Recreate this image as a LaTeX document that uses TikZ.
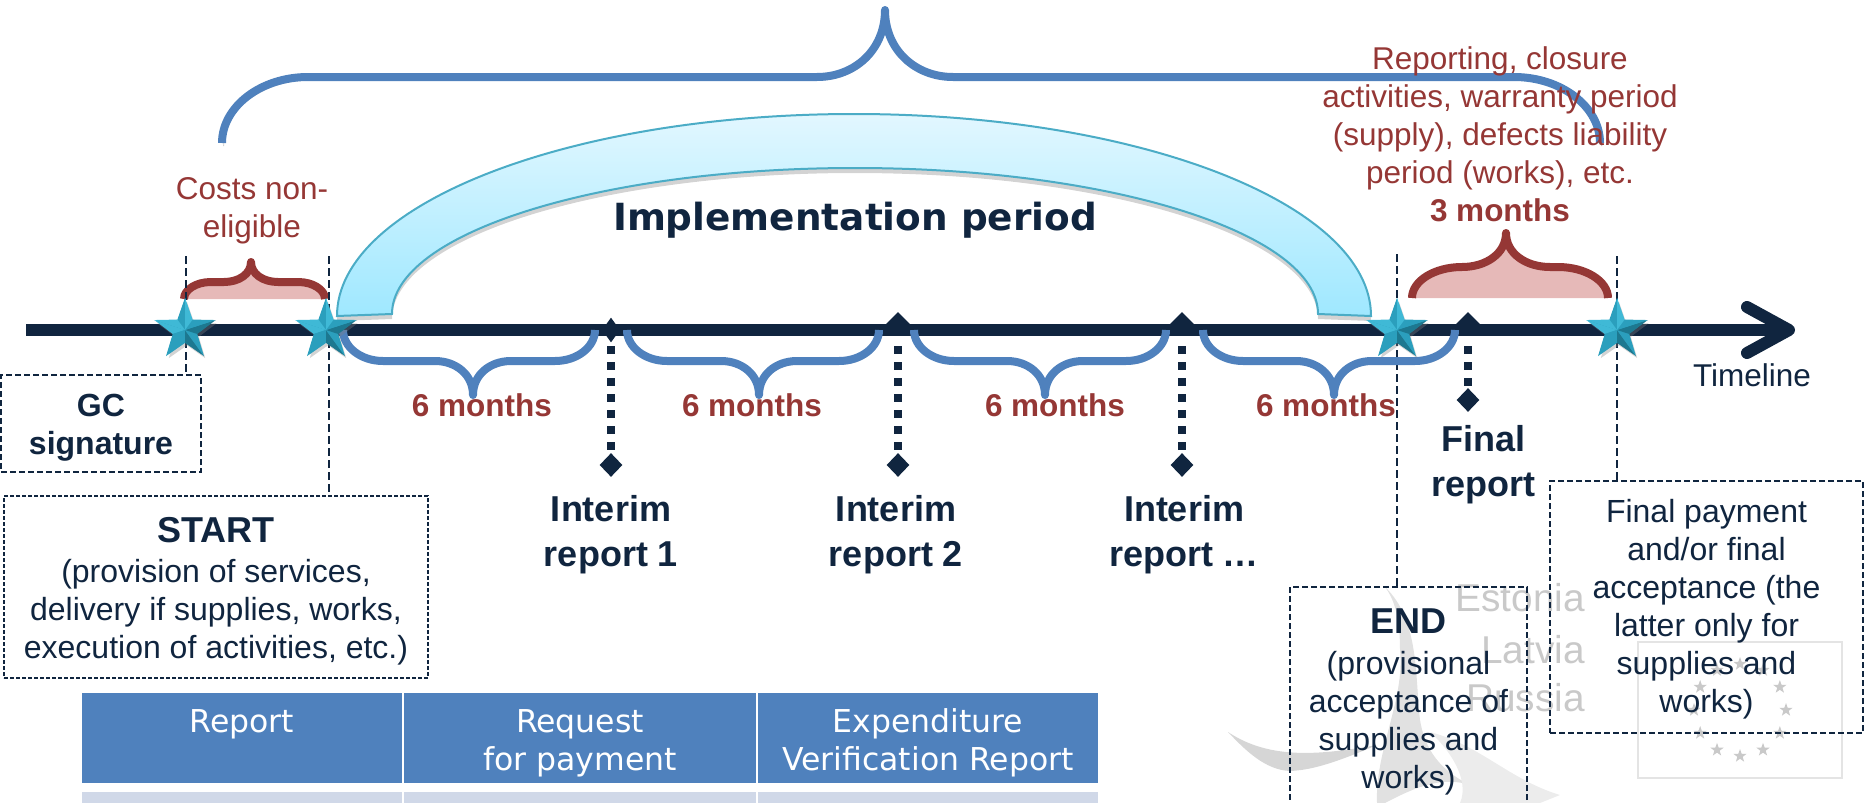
\documentclass[tikz,border=0pt]{standalone}
\usepackage{fontspec}
\setmainfont{Liberation Sans}
\newfontfamily\tablefont{DejaVu Sans}
\usetikzlibrary{shapes.geometric, arrows.meta, shadows}
\definecolor{navy}{HTML}{10253F}
\definecolor{braceblue}{HTML}{4F81BD}
\definecolor{darkred}{HTML}{953735}
\definecolor{palered}{HTML}{E6B9B8}
\definecolor{rowblue}{HTML}{D0D8E8}
\definecolor{bandline}{HTML}{4BACC6}
\definecolor{bandtop}{HTML}{E2F7FF}
\definecolor{bandbottom}{HTML}{9FE8FF}
\definecolor{wmgray}{HTML}{C9C9C9}
\definecolor{facetlight}{HTML}{3FB9D6}
\definecolor{facetmid}{HTML}{2B9FBD}
\definecolor{facetdark}{HTML}{1D7890}
\newcommand{\fsize}[2]{\fontsize{#1}{#2}\selectfont}
\tikzstyle{arrow} = [line width=6pt, draw=navy, -{Straight Barb[length=21pt, width=23pt, round]}]
\tikzstyle{guide} = [draw=navy, line width=1pt, dash pattern=on 4pt off 2pt]
\tikzstyle{dotline} = [draw=navy, line width=4pt, dash pattern=on 4pt off 4pt]
\tikzstyle{infobox} = [rectangle, draw=navy, line width=1pt, dash pattern=on 3pt off 1.5pt, align=center, text=navy, inner sep=0pt, font=\fsize{16}{19}]
\tikzstyle{tlmark} = [diamond, fill=navy, inner sep=0pt, minimum width=12pt, minimum height=12pt]
\tikzstyle{tlstar} = [star, star points=5, star point ratio=2.5, minimum size=31pt, inner sep=0pt, fill=facetmid, drop shadow={opacity=.35, shadow xshift=1pt, shadow yshift=-1.5pt}]
\tikzstyle{flagstar} = [star, star points=5, star point ratio=2.5, minimum size=7pt, inner sep=0pt, fill=wmgray]
\tikzstyle{bluebrace} = [draw=braceblue, line width=4pt, line join=round, preaction={draw=black!60, opacity=.3, transform canvas={xshift=.8pt, yshift=-1.6pt}}]
\tikzstyle{redbrace} = [draw=darkred, fill=palered, line width=4pt, line join=round]
\tikzstyle{months} = [text=darkred, font=\fsize{15.75}{19}\bfseries]
\tikzstyle{redtext} = [text=darkred, align=center, font=\fsize{15.75}{19}]
\tikzstyle{reportlabel} = [text=navy, align=center, font=\fsize{18}{22.5}\bfseries]
\tikzstyle{wmtext} = [text=wmgray, anchor=east, font=\fsize{19.4}{24}]
\tikzstyle{tablehead} = [rectangle, fill=braceblue, draw=white, line width=1pt, text=white, align=center, minimum height=46pt, inner sep=0pt, font=\tablefont\fsize{15.75}{19}]
\tikzstyle{tablerow} = [rectangle, fill=rowblue, draw=white, line width=1pt, minimum height=12pt, inner sep=0pt]
% x1, xtip, x2, ybase, ybar, ytip, corner, middle
\newcommand{\tlbrace}[9]{
  \draw[#1] (#2,#5) .. controls (#2,{#5+(#6-#5)*.55}) and ({#2+#8*.45},#6) .. ({#2+#8},#6)
    -- ({#3-#9},#6) .. controls ({#3-#9*.45},#6) and (#3,{#6+(#7-#6)*.4}) .. (#3,#7)
    .. controls (#3,{#6+(#7-#6)*.4}) and ({#3+#9*.45},#6) .. ({#3+#9},#6)
    -- ({#4-#8},#6) .. controls ({#4-#8*.45},#6) and (#4,{#5+(#6-#5)*.55}) .. (#4,#5);
}
% name, position
\newcommand{\faceted}[2]{
  \node[tlstar] (#1) at (#2) {};
  \foreach \a/\b/\ca/\cb in {1/2/facetmid/facetlight, 2/3/facetlight/facetmid, 3/4/facetmid/facetdark, 4/5/facetmid/facetdark, 5/1/facetmid/facetlight} {
    \fill[\ca] (#1.center) -- (#1.outer point \a) -- (#1.inner point \a) -- cycle;
    \fill[\cb] (#1.center) -- (#1.inner point \a) -- (#1.outer point \b) -- cycle;
  }
}
\begin{document}
\begin{tikzpicture}[x=0.5pt, y=-0.5pt, node distance=169pt]
                    \useasboundingbox (0,0) rectangle (1864,803);
                    \clip (0,0) rectangle (1864,803);

                    % Watermark behind everything
                    \fill[wmgray!75] (1228,732) .. controls (1270,760) and (1320,755) .. (1377,745) .. controls (1330,765) and (1310,770) .. (1290,771) .. controls (1265,770) and (1245,750) .. (1228,732) -- cycle;
                    \fill[wmgray!55] (1385,587) .. controls (1420,620) and (1415,680) .. (1420,720) .. controls (1425,750) and (1440,770) .. (1470,785) .. controls (1440,775) and (1410,790) .. (1385,803) -- (1377,803) .. controls (1375,750) and (1405,700) .. (1400,650) .. controls (1400,620) and (1395,600) .. (1385,587) -- cycle;
                    \fill[wmgray!35] (1430,732) .. controls (1480,745) and (1510,780) .. (1560,795) -- (1540,803) -- (1460,803) .. controls (1470,780) and (1450,750) .. (1430,732) -- cycle;
                    \node[wmtext] (wm_estonia) at (1592,598) {Estonia};
                    \node[wmtext] (wm_latvia) at (1592,650) {Latvia};
                    \node[wmtext] (wm_russia) at (1592,698) {Russia};
                    \draw[wmgray!50, line width=.6pt] (1638,642) rectangle (1842,778);
                    \foreach \ang in {0,30,...,330} {
                      \node[flagstar] (flag_\ang) at ({1740+46*cos(\ang)},{710+46*sin(\ang)}) {};
                    }

                    % Costs and closing braces
                    \tlbrace{redbrace}{184}{251}{325}{299}{282}{262}{27}{27}
                    \tlbrace{redbrace}{1412}{1506}{1608}{298}{267}{233}{50}{44}

                    % Implementation band
                    \draw[draw=bandline, line width=1pt, top color=bandtop, bottom color=bandbottom, drop shadow={opacity=.35, shadow xshift=0pt, shadow yshift=-2.5pt}]
                      (337,316) arc[start angle=180, end angle=360, x radius=517, y radius=202]
                      -- (1318,314) arc[start angle=360, end angle=180, x radius=463, y radius=146] -- cycle;

                    % Top brace
                    \tlbrace{bluebrace}{222}{885}{1600}{143}{77}{10}{86}{68}

                    % Guides behind the stars
                    \coordinate (gc_top) at (186,256);
                    \coordinate (start_top) at (329,256);
                    \coordinate (end_top) at (1397,254);
                    \coordinate (pay_top) at (1617,256);

                    % Place nodes
                    \node[infobox, minimum width=100pt, minimum height=48.5pt] (gc_box) at (101,423.5) {\rule{0pt}{15pt}\bfseries GC\\\bfseries signature};
                    \node[infobox, dash pattern=on 2pt off 1pt, minimum width=212pt, minimum height=91pt] (start_box) at (216,587) {\rule{0pt}{17pt}\fsize{18}{22}\bfseries START\\[1pt](provision of services,\\delivery if supplies, works,\\execution of activities, etc.)};
                    \node[infobox, minimum width=118.5pt, minimum height=114pt] (end_box) at (1408.5,701) {\rule{0pt}{13.5pt}\fsize{18}{22}\bfseries END\\[1.5pt](provisional\\acceptance of\\supplies and\\works)};
                    \node[infobox, minimum width=156.5pt, minimum height=126pt] (pay_box) at (1706.5,607) {\rule{0pt}{14pt}Final payment\\and/or final\\acceptance (the\\latter only for\\supplies and\\works)};

                    \coordinate (tl_start) at (26,330);
                    \coordinate (tl_end) at (1795,330);

                    \node[tlmark, minimum width=9pt, minimum height=12.5pt] (mark_one) at (611,330) {};
                    \node[tlmark] (mark_two) at (898,324) {};
                    \node[tlmark] (mark_three) at (1182,324) {};
                    \node[tlmark] (mark_final) at (1468,324) {};
                    \node[tlmark, minimum width=11.5pt] (rep_one) at (611,465) {};
                    \node[tlmark, minimum width=11.5pt] (rep_two) at (898,465) {};
                    \node[tlmark, minimum width=11.5pt] (rep_three) at (1182,465) {};
                    \node[tlmark, minimum width=11.5pt] (rep_final) at (1468,400) {};

                    % Draw edges
                    \draw[guide] (gc_top) -- (gc_top |- gc_box.north);
                    \draw[guide] (start_top) -- (start_top |- start_box.north);
                    \draw[guide] (end_top) -- (end_top |- end_box.north);
                    \draw[guide] (pay_top) -- (pay_top |- pay_box.north);
                    \path[arrow] (tl_start) -- (tl_end);
                    \draw[dotline] (mark_one) ++(0,16) -- (rep_one);
                    \draw[dotline] (mark_two) ++(0,22) -- (rep_two);
                    \draw[dotline] (mark_three) ++(0,22) -- (rep_three);
                    \draw[dotline] (mark_final) ++(0,22) -- (rep_final);

                    % Six month braces
                    \foreach \xa/\xt/\xb in {343/473/595, 627/759/879, 914/1045/1166, 1203/1334/1455} {
                      \tlbrace{bluebrace}{\xa}{\xt}{\xb}{330}{361}{395}{40}{38}
                    }

                    % Stars on the line
                    \faceted{star_gc}{185,330}
                    \faceted{star_start}{326,330}
                    \faceted{star_end}{1397,330}
                    \faceted{star_pay}{1617,330}

                    % Labels
                    \node[redtext] (costs_text) at (252,211) {Costs non-\\eligible};
                    \node[redtext] (closure_text) at (1500,134) {Reporting, closure\\activities, warranty period\\(supply), defects liability\\period (works), etc.\\\bfseries 3 months};
                    \node[text=navy, font=\tablefont\fsize{18.7}{22}\bfseries] (impl_text) at (855,220) {Implementation period};
                    \node[months] (m_one) at (482,405) {6 months};
                    \node[months] (m_two) at (752,405) {6 months};
                    \node[months] (m_three) at (1055,405) {6 months};
                    \node[months] (m_four) at (1326,405) {6 months};
                    \node[text=navy, font=\fsize{15.75}{19}] (timeline_text) at (1752,375) {Timeline};
                    \node[reportlabel] (int_one) at (611,535) {Interim\\report 1};
                    \node[reportlabel] (int_two) at (896,535) {Interim\\report 2};
                    \node[reportlabel] (int_three) at (1184,535) {Interim\\report …};
                    \node[reportlabel] (final_text) at (1483,465) {Final\\report};

                    % Table
                    \node[tablehead, minimum width=161pt] (head_report) at (242,737.5) {\rule{0pt}{17pt}Report\\\vphantom{for payment}};
                    \node[tablehead, minimum width=177pt, right of=head_report] (head_request) {\rule{0pt}{17pt}Request\\for payment};
                    \node[tablehead, minimum width=171pt, right of=head_request, node distance=174pt] (head_verify) {\rule{0pt}{17pt}Expenditure\\Verification Report};
                    \node[tablerow, minimum width=161pt] (row_report) at (242,803) {};
                    \node[tablerow, minimum width=177pt, right of=row_report] (row_request) {};
                    \node[tablerow, minimum width=171pt, right of=row_request, node distance=174pt] (row_verify) {};
                \end{tikzpicture}
\end{document}
